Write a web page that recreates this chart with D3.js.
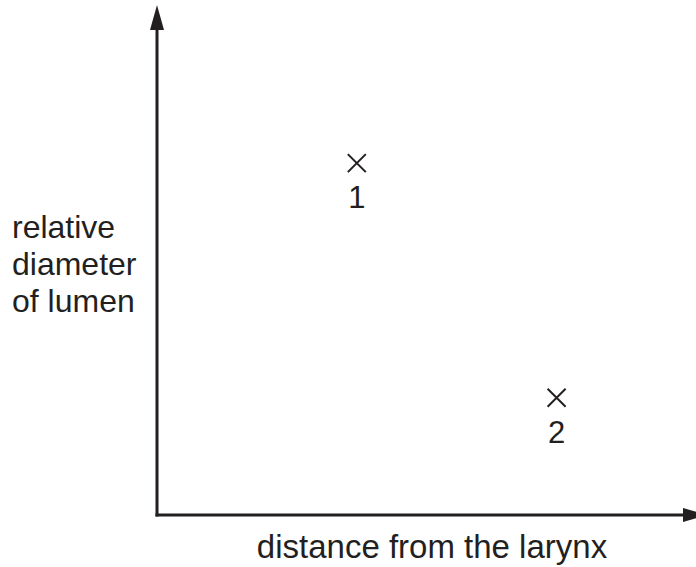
<!DOCTYPE html>
<html>
<head>
<meta charset="utf-8">
<script src="https://cdn.jsdelivr.net/npm/d3@7"></script>
<style>
  html, body { margin: 0; padding: 0; background: #fff; }
  text { font-family: "Liberation Sans", Arial, sans-serif; fill: #231f20; }
</style>
</head>
<body>
<div id="graph"></div>
<script>
// data (arbitrary units, axes have no ticks)
const pointLabels = ["1", "2"]
const distance = [3.7, 7.4]
const diameter = [6.9, 2.3]
const xTitle = "distance from the larynx"
const yTitle = ["relative", "diameter", "of lumen"]

const W = 696, H = 567
const ink = "#231f20"

const svg = d3.select("#graph")
  .append("svg")
  .attr("width", W)
  .attr("height", H)

// origin of the axes sits at (157, 515)
const x = d3.scaleLinear().domain([0, 10]).range([157, 697])
const y = d3.scaleLinear().domain([0, 10]).range([515, 5])

// arrow heads
const defs = svg.append("defs")
defs.append("marker")
  .attr("id", "arrow")
  .attr("viewBox", "0 0 25 14")
  .attr("refX", 0)
  .attr("refY", 7)
  .attr("markerUnits", "userSpaceOnUse")
  .attr("markerWidth", 25)
  .attr("markerHeight", 14)
  .attr("orient", "auto")
  .append("path")
  .attr("d", "M0,0 L25,7 L0,14 Z")
  .attr("fill", ink)

// y axis
svg.append("line")
  .attr("x1", x(0)).attr("y1", y(0) + 1.5)
  .attr("x2", x(0)).attr("y2", 30)
  .attr("stroke", ink)
  .attr("stroke-width", 3)
  .attr("marker-end", "url(#arrow)")

// x axis
svg.append("line")
  .attr("x1", x(0) - 1.5).attr("y1", y(0))
  .attr("x2", 683).attr("y2", y(0))
  .attr("stroke", ink)
  .attr("stroke-width", 3)
  .attr("marker-end", "url(#arrow)")

// points as crosses
const pts = svg.selectAll(".pt")
  .data(pointLabels.map((l, i) => ({label: l, d: distance[i], v: diameter[i]})))
  .enter()
  .append("g")
  .attr("class", "pt")
  .attr("transform", d => `translate(${x(d.d)},${y(d.v)})`)

const s = 9
pts.append("path")
  .attr("d", `M${-s},${-s}L${s},${s}M${-s},${s}L${s},${-s}`)
  .attr("stroke", ink)
  .attr("stroke-width", 2)
  .attr("fill", "none")

pts.append("text")
  .attr("y", 45)
  .attr("text-anchor", "middle")
  .attr("font-size", "31px")
  .text(d => d.label)

// axis titles
svg.append("text")
  .attr("x", 432)
  .attr("y", 558)
  .attr("text-anchor", "middle")
  .attr("font-size", "33px")
  .text(xTitle)

svg.append("text")
  .attr("font-size", "32px")
  .selectAll("tspan")
  .data(yTitle)
  .enter()
  .append("tspan")
  .attr("x", 12)
  .attr("y", (d, i) => 238 + i * 37)
  .text(d => d)
</script>
</body>
</html>
